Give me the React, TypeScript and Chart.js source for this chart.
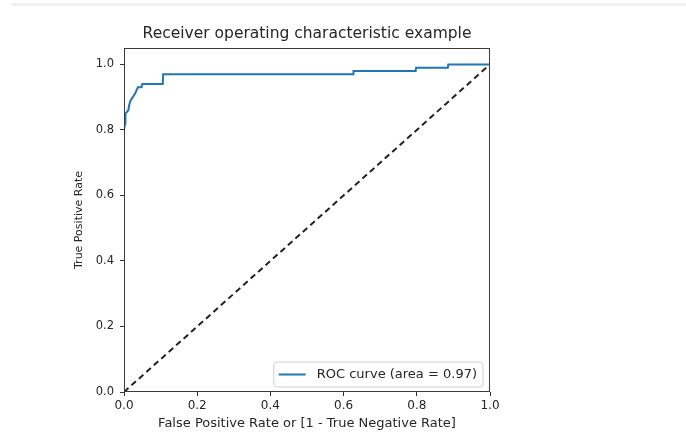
import React, { useEffect, useRef } from "react";
import { Chart, registerables } from "chart.js";

Chart.register(...registerables);

const chartTitle = "Receiver operating characteristic example";
const xAxisTitle = "False Positive Rate or [1 - True Negative Rate]";
const yAxisTitle = "True Positive Rate";
const rocLabel = "ROC curve (area = 0.97)";

const rocFpr = [0, 0, 0.003, 0.004, 0.008, 0.012, 0.014, 0.018, 0.024, 0.030, 0.034, 0.038, 0.048, 0.050, 0.106, 0.107, 0.626, 0.627, 0.797, 0.798, 0.885, 0.886, 1.0];
const rocTpr = [0.78, 0.80, 0.82, 0.85, 0.855, 0.86, 0.875, 0.89, 0.90, 0.91, 0.92, 0.93, 0.93, 0.94, 0.94, 0.97, 0.97, 0.98, 0.98, 0.99, 0.99, 1.0, 1.0];
const chanceX = [0, 1];
const chanceY = [0, 1];
const xTicks = [0, 0.2, 0.4, 0.6, 0.8, 1.0];
const yTicks = [0, 0.2, 0.4, 0.6, 0.8, 1.0];

const FONT = "'DejaVu Sans', sans-serif";
const TEXT = "#262626";

const framePlugin = {
  id: "frame",
  afterDatasetsDraw(chart: any) {
    const { ctx, chartArea } = chart;
    ctx.save();
    ctx.strokeStyle = "#3a3a3a";
    ctx.lineWidth = 1;
    ctx.strokeRect(chartArea.left + 0.5, chartArea.top + 0.5, chartArea.right - chartArea.left - 1, chartArea.bottom - chartArea.top - 1);
    ctx.restore();
  },
};

const titlePlugin = {
  id: "centerTitle",
  afterDraw(chart: any) {
    const { ctx, chartArea } = chart;
    ctx.save();
    ctx.font = `15.5px ${FONT}`;
    ctx.fillStyle = TEXT;
    ctx.textAlign = "center";
    ctx.textBaseline = "middle";
    ctx.fillText(chartTitle, (chartArea.left + chartArea.right) / 2, 34);
    ctx.restore();
  },
};

const legendPlugin = {
  id: "boxLegend",
  afterDraw(chart: any) {
    const { ctx, chartArea } = chart;
    const ds = chart.data.datasets[0];
    ctx.save();
    ctx.font = `13px ${FONT}`;
    const tw = ctx.measureText(ds.label).width;
    const h = 25;
    const w = 43 + tw + 6;
    const right = chartArea.right - 7;
    const bottom = chartArea.bottom - 5;
    const left = right - w;
    const top = bottom - h;
    const r = 3;
    ctx.beginPath();
    ctx.moveTo(left + r, top);
    ctx.lineTo(right - r, top);
    ctx.quadraticCurveTo(right, top, right, top + r);
    ctx.lineTo(right, bottom - r);
    ctx.quadraticCurveTo(right, bottom, right - r, bottom);
    ctx.lineTo(left + r, bottom);
    ctx.quadraticCurveTo(left, bottom, left, bottom - r);
    ctx.lineTo(left, top + r);
    ctx.quadraticCurveTo(left, top, left + r, top);
    ctx.closePath();
    ctx.fillStyle = "rgba(255,255,255,0.85)";
    ctx.fill();
    ctx.strokeStyle = "#d0d0d0";
    ctx.lineWidth = 1;
    ctx.stroke();
    const cy = top + h / 2;
    ctx.strokeStyle = ds.borderColor;
    ctx.lineWidth = 2;
    ctx.beginPath();
    ctx.moveTo(left + 5, cy);
    ctx.lineTo(left + 32, cy);
    ctx.stroke();
    ctx.fillStyle = TEXT;
    ctx.textBaseline = "middle";
    ctx.textAlign = "left";
    ctx.fillText(ds.label, left + 43, cy + 0.5);
    ctx.restore();
  },
};

export default function App() {
  const ref = useRef<HTMLCanvasElement>(null);
  useEffect(() => {
    if (!ref.current) return;
    const chart = new Chart(ref.current, {
      type: "line",
      data: {
        datasets: [
          {
            label: rocLabel,
            data: rocFpr.map((x, i) => ({ x, y: rocTpr[i] })),
            borderColor: "#1f77b4",
            borderWidth: 2,
            pointRadius: 0,
            tension: 0,
            fill: false,
          },
          {
            label: "",
            data: chanceX.map((x, i) => ({ x, y: chanceY[i] })),
            borderColor: "#222222",
            borderWidth: 2,
            borderDash: [6, 4],
            pointRadius: 0,
            tension: 0,
            fill: false,
          },
        ],
      },
      options: {
        responsive: false,
        animation: false,
        layout: { padding: { left: 0, right: 196, top: 48, bottom: 0 } },
        plugins: {
          legend: { display: false },
          tooltip: { enabled: false },
          title: { display: false },
        },
        scales: {
          x: {
            type: "linear",
            min: 0,
            max: 1,
            afterBuildTicks: (s: any) => {
              s.ticks = xTicks.map((v) => ({ value: v }));
            },
            afterFit: (s: any) => {
              s.height = 44;
            },
            ticks: {
              color: TEXT,
              font: { family: FONT, size: 12 },
              padding: 3,
              maxRotation: 0,
              callback: (v: any) => Number(v).toFixed(1),
            },
            grid: { display: true, drawOnChartArea: false, drawTicks: true, tickLength: 4, color: "#333" },
            border: { display: false },
            title: {
              display: true,
              text: xAxisTitle,
              color: TEXT,
              font: { family: FONT, size: 13 },
              padding: { top: 0, bottom: 5 },
            },
          },
          y: {
            type: "linear",
            min: 0,
            max: 1.05,
            afterBuildTicks: (s: any) => {
              s.ticks = yTicks.map((v) => ({ value: v }));
            },
            afterFit: (s: any) => {
              s.width = 124;
            },
            ticks: {
              color: TEXT,
              font: { family: FONT, size: 11.5 },
              padding: 6,
              callback: (v: any) => Number(v).toFixed(1),
            },
            grid: { display: true, drawOnChartArea: false, drawTicks: true, tickLength: 4, color: "#333" },
            border: { display: false },
            title: {
              display: true,
              text: yAxisTitle,
              color: TEXT,
              font: { family: FONT, size: 11 },
              padding: { top: 73, bottom: 0 },
            },
          },
        },
      },
      plugins: [framePlugin, titlePlugin, legendPlugin],
    } as any);
    return () => chart.destroy();
  }, []);
  return (
    <div style={{ position: "absolute", left: 0, top: 0, width: 686, height: 436, background: "#fff" }}>
      <div style={{ position: "absolute", left: 11, top: 3, width: 675, height: 3, background: "#f1f1f1" }} />
      <canvas ref={ref} width={686} height={436} style={{ position: "absolute", left: 0, top: 0 }} />
    </div>
  );
}
